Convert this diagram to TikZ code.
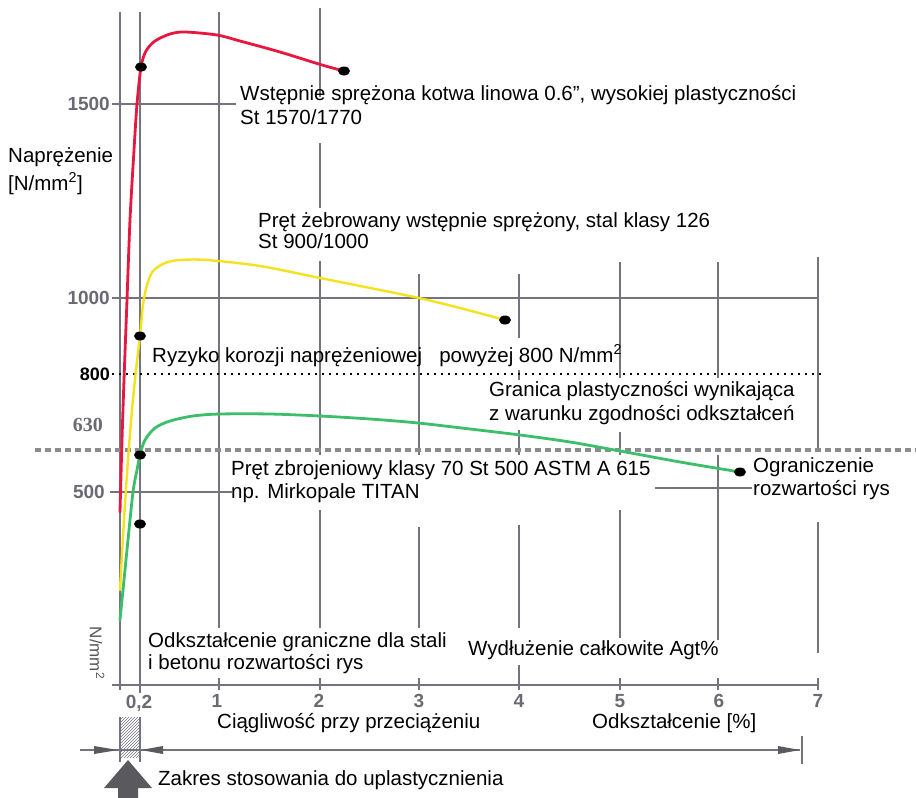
\documentclass[tikz,border=0pt]{standalone}
\usepackage{fontspec}
\setmainfont{Liberation Sans}
\newfontfamily\serifnum{Liberation Serif}
\usetikzlibrary{patterns}
\definecolor{gridc}{HTML}{74747E}
\definecolor{numgray}{HTML}{6A6A74}
\definecolor{cred}{HTML}{E8173F}
\definecolor{cyel}{HTML}{F4E21C}
\definecolor{cgreen}{HTML}{3DBE6A}
\definecolor{dotgray}{HTML}{8C8C90}
\definecolor{arrgray}{HTML}{5A5A5E}
\begin{document}
\begin{tikzpicture}[x=1pt,y=-1pt,
 gridline/.style={draw=gridc, line width=1.4pt},
 lbl/.style={font=\fontsize{20.5}{24}\selectfont, anchor=base west, inner sep=0pt},
 num/.style={font=\fontsize{19}{22}\selectfont\bfseries, text=numgray, inner sep=0pt},
 curve/.style={line width=2.8pt, line cap=round, line join=round},
 blackdot/.style={fill=black}]
\useasboundingbox (0,0) rectangle (916,798);
\fill[white] (0,0) rectangle (916,798);

% vertical grid segments
\foreach \x/\a/\b in {120/12/690, 140/12/693, 219/12/628, 219/678/690,
  320/8/97, 320/143/208, 320/261/455, 320/510/628, 320/678/690,
  419/274/455, 419/527/628, 419/678/690,
  519/274/338, 519/370/380, 519/430/455, 519/525/628, 519/665/690,
  620/262/378, 620/432/455, 620/510/638, 620/678/690,
  718/262/378, 718/455/640, 718/678/690,
  818/257/452, 818/522/653, 818/678/690}
  \draw[gridline] (\x,\a) -- (\x,\b);

% horizontal grid lines
\draw[gridline] (112,104) -- (236,104);
\draw[gridline] (112,298) -- (818,298);
\draw[gridline] (110,492) -- (232,492);
\draw[gridline] (655,488) -- (752,488);
\draw[gridline] (112,685) -- (818,685);

% dotted limit lines
\draw[black, line width=2.4pt, dash pattern=on 2.4pt off 4.6pt] (112,374) -- (822,374);
\draw[dotgray, line width=4pt, dash pattern=on 6pt off 4pt] (35,450) -- (916,450);

% curves
\draw[curve, cred] plot[smooth, tension=0.5] coordinates {(120,512) (122,440) (124,380) (127,300) (130,220) (134,150) (137,104) (141,67) (146,51) (155,41) (170,34) (185,32) (217,35) (240,41) (280,52) (322,65) (344,71)};
\draw[curve, cyel, line width=2.4pt] plot[smooth, tension=0.5] coordinates {(120,590) (124,520) (128,460) (132,410) (136,370) (140,336) (143,305) (147,285) (153,271) (165,263) (180,260) (207,260) (260,266) (320,278) (370,288) (419,298) (460,308) (505,320)};
\draw[curve, cgreen] plot[smooth, tension=0.5] coordinates {(120,620) (124,580) (128,540) (133,492) (137,470) (140,455) (145,440) (155,428) (170,421) (193,416) (220,414) (270,414) (320,416) (370,419) (418,423) (470,429) (520,435) (570,442) (620,451) (680,462) (740,472)};

% black dots
\foreach \p/\q in {141/67, 344/71, 140/336, 505/320, 140/455, 140/524, 740/472}
  \fill[blackdot] (\p,\q) ellipse (6 and 4.5);

% y axis numbers
\node[num, anchor=east] (n1500) at (110,104) {1500};
\node[num, anchor=east] (n1000) at (110,298) {1000};
\node[num, anchor=east, text=black, font=\fontsize{18}{22}\selectfont\bfseries] (n800) at (110,374) {800};
\node[num, anchor=east, font=\fontsize{20}{22}\selectfont\serifnum\bfseries] (n630) at (103,425) {630};
\node[num, anchor=east] (n500) at (105,492) {500};
\node[font=\fontsize{17}{20}\selectfont, text=numgray!80!black, rotate=-90, inner sep=0pt] (nunit) at (97,653) {N/mm\textsuperscript{2}};

% x axis numbers
\node[num] (x02) at (139,703) {0,2};
\foreach \x/\t in {217/1, 319/2, 419/3, 519/4, 620/5, 719/6, 818/7}
  \node[num] (x\t) at (\x,701) {\t};

% labels
\node[lbl] (t1) at (8,162) {Naprężenie};
\node[lbl] (t2) at (8,190) {[N/mm\textsuperscript{2}]};
\node[lbl] (t3) at (240,100) {Wstępnie sprężona  kotwa linowa 0.6”, wysokiej plastyczności};
\node[lbl] (t4) at (240,124) {St 1570/1770};
\node[lbl] (t5) at (258,227) {Pręt żebrowany  wstępnie sprężony, stal klasy 126};
\node[lbl] (t6) at (258,248) {St 900/1000};
\node[lbl] (t7) at (152,362) {Ryzyko korozji naprężeniowej \ \ powyżej 800 N/mm\textsuperscript{2}};
\node[lbl] (t8) at (489,396) {Granica plastyczności wynikająca};
\node[lbl] (t9) at (489,420) {z warunku zgodności odkształceń};
\node[lbl] (t10) at (231,475) {Pręt zbrojeniowy klasy 70 St 500 ASTM A 615};
\node[lbl] (t11) at (231,498) {np. Mirkopale TITAN};
\node[lbl] (t12) at (753,472) {Ograniczenie};
\node[lbl] (t13) at (753,495) {rozwartości rys};
\node[lbl] (t14) at (148,647) {Odkształcenie graniczne dla stali};
\node[lbl] (t15) at (148,669) {i betonu  rozwartości rys};
\node[lbl] (t16) at (468,655) {Wydłużenie całkowite Agt\%};
\node[lbl] (t17) at (217,728) {Ciągliwość przy przeciążeniu};
\node[lbl] (t18) at (592,728) {Odkształcenie [\%]};
\node[lbl] (t19) at (158,785) {Zakres stosowania do uplastycznienia};

% hatched application range
\fill[pattern=north east lines, pattern color=gridc] (120,717) rectangle (140,757);
\draw[gridline, line width=1.2pt] (120,717) -- (120,762);
\draw[gridline, line width=1.2pt] (140,717) -- (140,762);

% dimension line
\coordinate (dl) at (80,750);
\coordinate (dr) at (800,750);
\draw[gridc, line width=1.2pt] (dl) -- (dr);
\fill[arrgray] (94,746) -- (118,750) -- (94,754) -- cycle;
\fill[arrgray] (163,746) -- (141,750) -- (163,754) -- cycle;
\fill[arrgray] (778,746) -- (800,750) -- (778,754) -- cycle;
\draw[gridline, line width=1.2pt] (802,736) -- (802,764);

% big arrow
\fill[arrgray] (128,760) -- (152,788) -- (138,788) -- (138,798) -- (118,798) -- (118,788) -- (104,788) -- cycle;
\end{tikzpicture}
\end{document}
